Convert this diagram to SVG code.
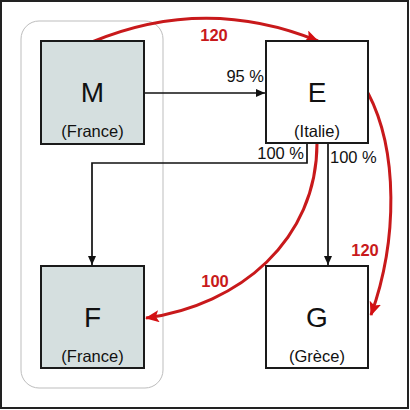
<svg xmlns="http://www.w3.org/2000/svg" width="410" height="410" viewBox="0 0 410 410">
<style>
text{font-family:"Liberation Sans",Arial,sans-serif;fill:#111;}
.big{font-size:28px;text-anchor:middle;}
.sub{font-size:16.5px;text-anchor:middle;}
.pct{font-size:16.5px;}
.red{font-size:16.5px;font-weight:bold;fill:#c8191b;text-anchor:middle;}
.box{stroke:#1a1a1a;stroke-width:2;}
.fr{fill:#d5dfdf;}
.it{fill:#fff;}
.blk{fill:none;stroke:#111;stroke-width:1.7;marker-end:url(#ab);}
.rc{fill:none;stroke:#c8191b;stroke-width:3;marker-end:url(#ar);}
</style>
<defs>
<marker id="ab" markerUnits="userSpaceOnUse" markerWidth="9" markerHeight="8" refX="9" refY="4" orient="auto"><path d="M0,0 L9,4 L0,8 z" fill="#111"/></marker>
<marker id="ar" markerUnits="userSpaceOnUse" markerWidth="14" markerHeight="12" refX="13" refY="6" orient="auto"><path d="M0,0 L14,6 L0,12 L3,6 z" fill="#d40f12"/></marker>
</defs>
<rect x="1" y="1" width="407" height="407" fill="#fff" stroke="#222" stroke-width="2"/>
<rect x="21" y="21" width="142" height="367" rx="18" fill="none" stroke="#bdbdbd" stroke-width="1"/>
<g id="connectors">
<path class="blk" d="M144,93 L265,93"/>
<path class="blk" d="M307,143 L307,163 L92,163 L92,265"/>
<path class="blk" d="M328,143 L328,265"/>
<path class="rc" d="M92,42 Q205,-5 318,41"/>
<path class="rc" d="M317,143 C317,240 240,305 146,318"/>
<path class="rc" d="M368,93 C398,150 398,240 371,315"/>
<text class="pct" x="264" y="82" text-anchor="end">95 %</text>
<text class="pct" x="304" y="159" text-anchor="end">100 %</text>
<text class="pct" x="330" y="163">100 %</text>
<text class="red" x="214" y="41">120</text>
<text class="red" x="215" y="287">100</text>
<text class="red" x="365" y="256">120</text>
</g>
<g id="M"><rect class="box fr" x="41" y="41" width="103" height="103"/><text class="big" x="92.5" y="102">M</text><text class="sub" x="92.5" y="137">(France)</text></g>
<g id="E"><rect class="box it" x="266" y="41" width="102" height="102"/><text class="big" x="317" y="102">E</text><text class="sub" x="317" y="137">(Italie)</text></g>
<g id="F"><rect class="box fr" x="41" y="266" width="103" height="102"/><text class="big" x="92.5" y="327">F</text><text class="sub" x="92.5" y="362">(France)</text></g>
<g id="G"><rect class="box it" x="266" y="266" width="102" height="102"/><text class="big" x="317" y="327">G</text><text class="sub" x="317" y="362">(Grèce)</text></g>
</svg>
